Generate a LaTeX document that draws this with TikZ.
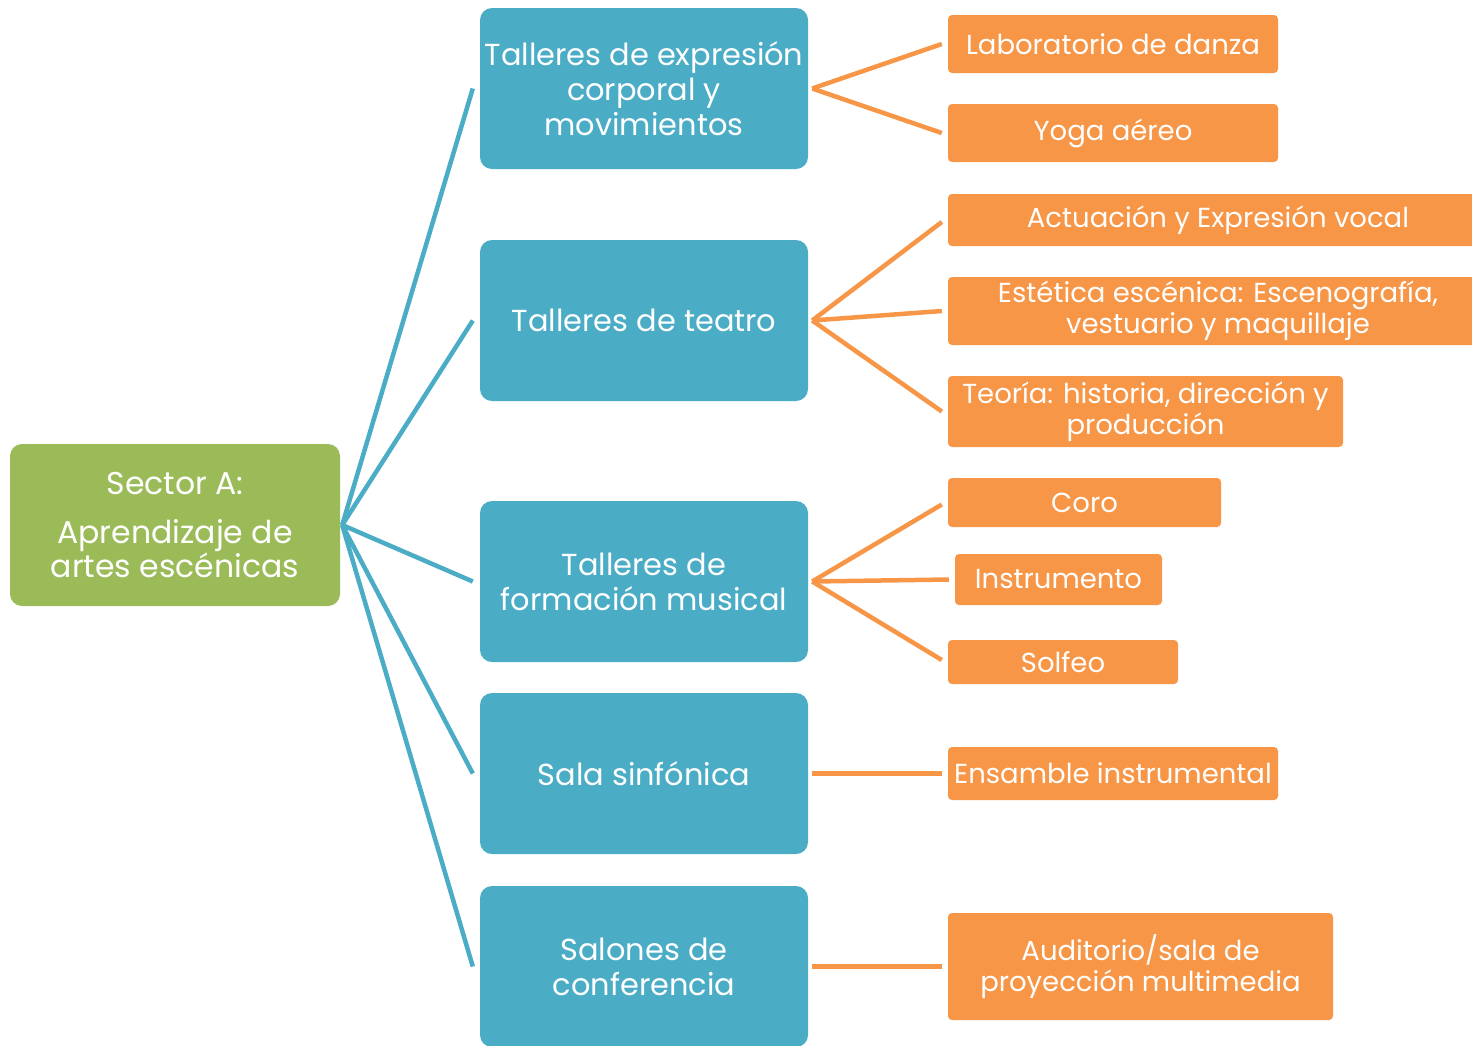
\documentclass[tikz,border=0pt]{standalone}
\usepackage{fontspec}
\setmainfont{Poppins}
\usetikzlibrary{calc}
\definecolor{cgreen}{HTML}{9BBB59}
\definecolor{cblue}{HTML}{4BACC6}
\definecolor{corange}{HTML}{F79646}
\begin{document}
\begin{tikzpicture}[x=1pt,y=-1pt,
  box/.style={rectangle, inner sep=0pt, align=center, text=white},
  rootbox/.style={box, fill=cgreen, rounded corners=12pt, minimum width=330pt, minimum height=162pt, font=\fontsize{31.5}{34}\selectfont},
  midbox/.style={box, fill=cblue, rounded corners=12pt, minimum width=328pt, minimum height=161pt, font=\fontsize{30.4}{35}\selectfont},
  leafbox/.style={box, fill=corange, rounded corners=4pt, font=\fontsize{27.5}{31}\selectfont},
  blueline/.style={draw=cblue, line width=4.5pt},
  orangeline/.style={draw=corange, line width=4.5pt}]
\useasboundingbox (0,0) rectangle (1472,1045);
\node[rootbox] (g) at (175,525) {Sector A:\\[15pt]Aprendizaje de\\artes escénicas};
\node[midbox] (b1) at (644,88.5) {Talleres de expresión\\corporal y\\movimientos};
\node[midbox] (b2) at (644,320.5) {Talleres de teatro};
\node[midbox] (b3) at (644,581.5) {Talleres de\\formación musical};
\node[midbox] (b4) at (644,773.5) {Sala sinfónica};
\node[midbox] (b5) at (644,966.5) {Salones de\\conferencia};
\node[leafbox, minimum width=330pt, minimum height=58pt] (o1) at (1113,44) {Laboratorio de danza};
\node[leafbox, minimum width=330pt, minimum height=58pt] (o2) at (1113,133) {Yoga aéreo};
\node[leafbox, minimum width=540pt, minimum height=52pt] (o3) at (1218,220) {Actuación y Expresión vocal};
\node[leafbox, minimum width=540pt, minimum height=68pt] (o4) at (1218,311) {Estética escénica: Escenografía,\\vestuario y maquillaje};
\node[leafbox, minimum width=395pt, minimum height=71pt] (o5) at (1145.5,411.5) {Teoría: historia, dirección y\\producción};
\node[leafbox, minimum width=273pt, minimum height=49pt] (o6) at (1084.5,502.5) {Coro};
\node[leafbox, minimum width=207pt, minimum height=51pt] (o7) at (1058.5,579.5) {Instrumento};
\node[leafbox, minimum width=230pt, minimum height=44pt] (o8) at (1063,662) {Solfeo};
\node[leafbox, minimum width=330pt, minimum height=53pt] (o9) at (1113,773.5) {Ensamble instrumental};
\node[leafbox, minimum width=385pt, minimum height=107pt] (o10) at (1140.5,966.5) {Auditorio/sala de\\proyección multimedia};
\coordinate (gh) at ($(g.east)+(2,0)$);
\foreach \b in {b1,b2,b3,b4,b5}
  \draw[blueline] (gh) -- ($(\b.west)+(-7,0)$);
\coordinate (h1) at ($(b1.east)+(4,0)$);
\coordinate (h2) at ($(b2.east)+(4,0)$);
\coordinate (h3) at ($(b3.east)+(4,0)$);
\coordinate (h4) at ($(b4.east)+(4,0)$);
\coordinate (h5) at ($(b5.east)+(4,0)$);
\draw[orangeline] (h1) -- ($(o1.west)+(-6,0)$);
\draw[orangeline] (h1) -- ($(o2.west)+(-6,0)$);
\draw[orangeline] (h2) -- ($(o3.west)+(-6,2)$);
\draw[orangeline] (h2) -- ($(o4.west)+(-6,0)$);
\draw[orangeline] (h2) -- ($(o5.west)+(-6,0)$);
\draw[orangeline] (h3) -- ($(o6.west)+(-6,2)$);
\draw[orangeline] (h3) -- ($(o7.west)+(-6,0)$);
\draw[orangeline] (h3) -- ($(o8.west)+(-6,-2)$);
\draw[orangeline] (h4) -- ($(o9.west)+(-6,0)$);
\draw[orangeline] (h5) -- ($(o10.west)+(-6,0)$);
\end{tikzpicture}
\end{document}
